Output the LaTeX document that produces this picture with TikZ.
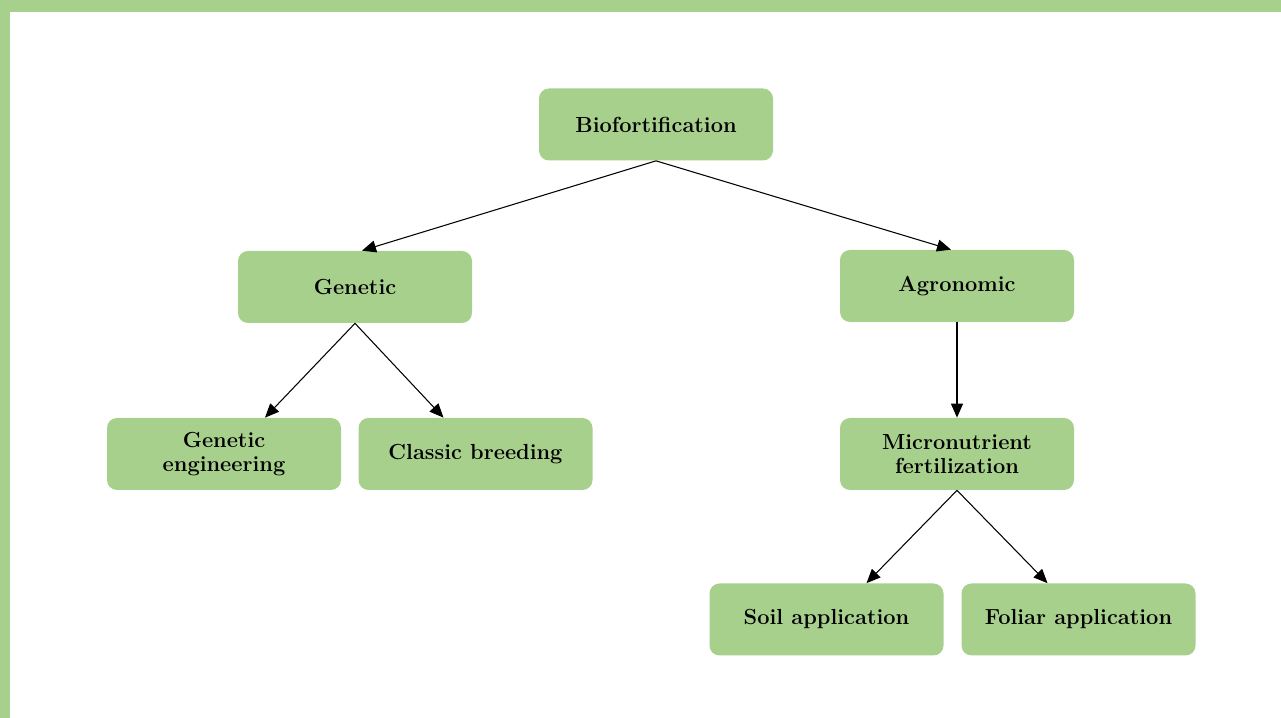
\documentclass[tikz,border=0pt]{standalone}
\usepackage{xcolor}
\usepackage{tikz}
\usetikzlibrary{arrows.meta,positioning}
\definecolor{boxgreen}{RGB}{168,208,141}

\begin{document}
\begin{tikzpicture}[
  b/.style={rectangle,rounded corners=2mm,fill=boxgreen,minimum width=4.68cm,
    minimum height=1.44cm,inner sep=2pt,align=center,
    font=\bfseries\fontsize{12.4}{14}\selectfont},
  a/.style={-{Triangle[length=2.8mm,width=2.4mm]},line width=0.6pt}]
 \useasboundingbox (0,0) rectangle (25.62,-14.36);
 % ---- frame ----
 \fill[boxgreen] (0,0) rectangle (25.62,-0.24);
 \fill[boxgreen] (0,0) rectangle (0.2,-14.36);
 % ---- boxes ----
 \node[b] (bio) at (13.12,-2.49) {Biofortification};
 \node[b] (gen) at (7.10,-5.74) {Genetic};
 \node[b] (agr) at (19.14,-5.72) {Agronomic};
 \node[b] (eng) at (4.48,-9.08) {Genetic\\engineering};
 \node[b] (cla) at (9.51,-9.08) {Classic breeding};
 \node[b] (mic) at (19.14,-9.08) {Micronutrient\\fertilization};
 \node[b] (soi) at (16.53,-12.39) {Soil application};
 \node[b] (fol) at (21.57,-12.39) {Foliar application};
 % ---- arrows ----
 \draw[a] (bio.south) -- ([xshift=1.4mm]gen.north);
 \draw[a] (bio.south) -- ([xshift=-1.2mm]agr.north);
 \draw[a] (gen.south) -- ([xshift=8.2mm]eng.north);
 \draw[a] (gen.south) -- ([xshift=-6.4mm]cla.north);
 \draw[a] (agr.south) -- (mic.north);
 \draw[a] (mic.south) -- ([xshift=8mm]soi.north);
 \draw[a] (mic.south) -- ([xshift=-6.2mm]fol.north);
\end{tikzpicture}
\end{document}
